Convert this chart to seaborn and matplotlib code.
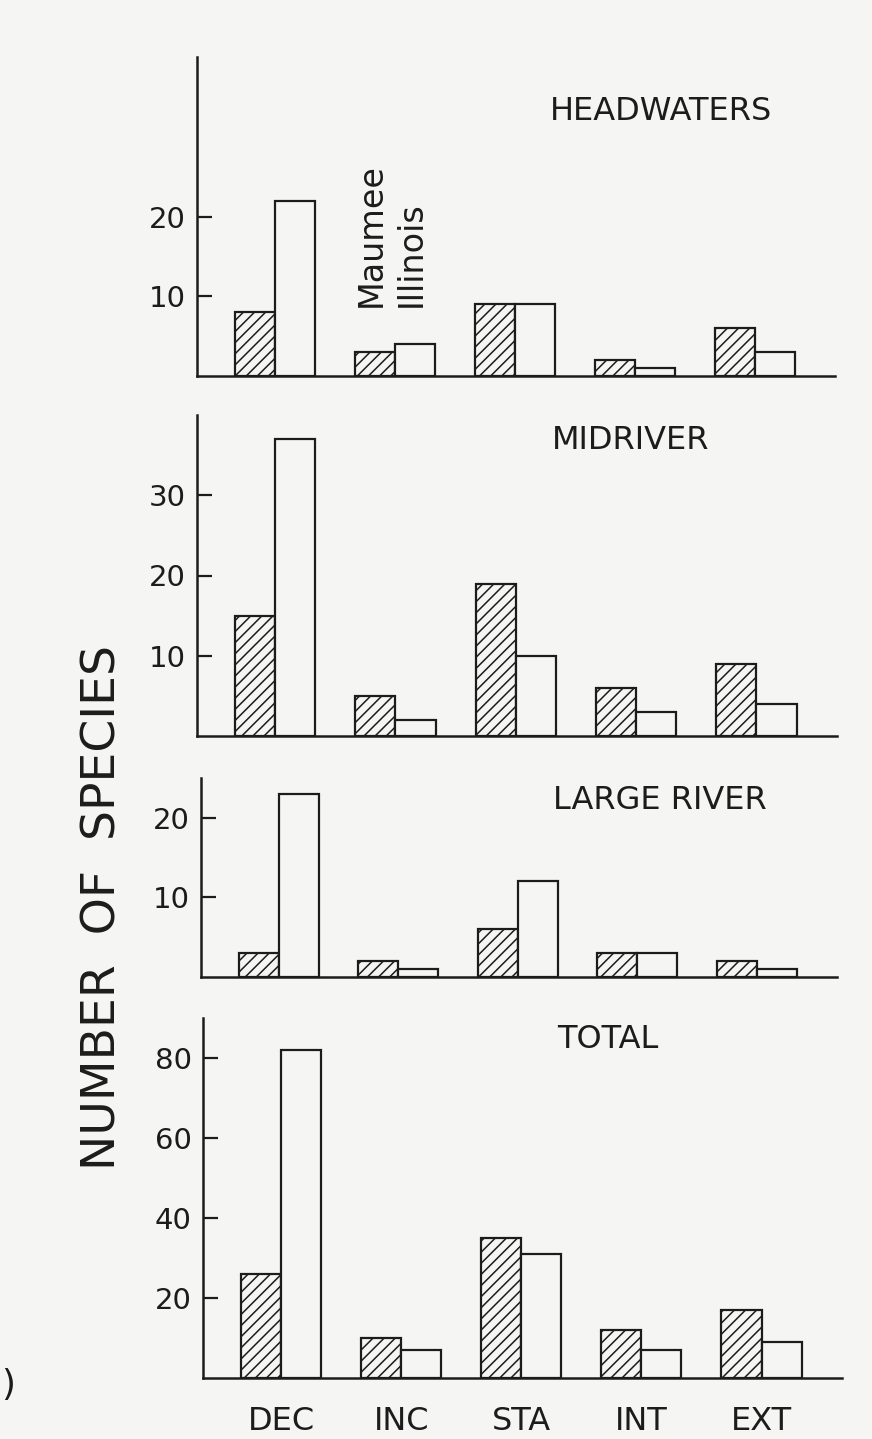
import pandas as pd
import matplotlib
matplotlib.use("Agg")
import matplotlib.pyplot as plt
import seaborn as sns

# Values
categories = ["DEC", "INC", "STA", "INT", "EXT"]
rivers = ["Maumee", "Illinois"]
regions = ["HEADWATERS", "MIDRIVER", "LARGE RIVER", "TOTAL"]

headwaters_maumee = [8, 3, 9, 2, 6]
headwaters_illinois = [22, 4, 9, 1, 3]
midriver_maumee = [15, 5, 19, 6, 9]
midriver_illinois = [37, 2, 10, 3, 4]
large_river_maumee = [3, 2, 6, 3, 2]
large_river_illinois = [23, 1, 12, 3, 1]
total_maumee = [26, 10, 35, 12, 17]
total_illinois = [82, 7, 31, 7, 9]

y_max = [40, 40, 25, 90]
y_ticks = [[10, 20], [10, 20, 30], [10, 20], [20, 40, 60, 80]]

# Build a long table for seaborn
series = {
    "HEADWATERS": (headwaters_maumee, headwaters_illinois),
    "MIDRIVER": (midriver_maumee, midriver_illinois),
    "LARGE RIVER": (large_river_maumee, large_river_illinois),
    "TOTAL": (total_maumee, total_illinois),
}
rows = []
for region in regions:
    for river, values in zip(rivers, series[region]):
        for cat, v in zip(categories, values):
            rows.append({"region": region, "category": cat, "river": river, "count": v})
data = pd.DataFrame(rows)

sns.set_style("ticks")
bg = "#f5f5f4"
ink = "#1c1c1c"
plt.rcParams["font.family"] = ["DejaVu Sans"]
plt.rcParams["hatch.linewidth"] = 1.1
plt.rcParams["hatch.color"] = ink

W, H = 872, 1439
fig = plt.figure(figsize=(W / 100, H / 100), dpi=100, facecolor=bg)

# panel boxes in pixels: left, right, top, bottom
boxes = [(197, 835, 57, 376), (197, 837, 415, 736), (201, 837, 778, 977), (203, 842, 1018, 1378)]
title_pos = [(550, 112), (552, 440), (553, 801), (557, 1040)]

axes = []
for i, region in enumerate(regions):
    l, r, t, b = boxes[i]
    ax = fig.add_axes([l / W, 1 - b / H, (r - l) / W, (b - t) / H], facecolor=bg)
    sub = data[data["region"] == region]
    sns.barplot(data=sub, x="category", y="count", hue="river", order=categories,
                hue_order=rivers, palette={"Maumee": bg, "Illinois": bg}, saturation=1,
                width=0.667, gap=0, edgecolor=ink, linewidth=1.6, errorbar=None,
                legend=False, ax=ax)
    for bar in ax.containers[0]:
        bar.set_hatch("///")
    sns.despine(ax=ax)
    for side in ["left", "bottom"]:
        ax.spines[side].set_linewidth(1.8)
        ax.spines[side].set_color(ink)
    ax.set_xlim(-0.65, 4.67)
    ax.set_ylim(0, y_max[i])
    ax.set_yticks(y_ticks[i])
    ax.tick_params(axis="y", direction="in", length=11, width=1.6, colors=ink,
                   labelsize=21, pad=8)
    ax.set_xlabel("")
    ax.set_ylabel("")
    if i < 3:
        ax.tick_params(axis="x", length=0, labelbottom=False)
    else:
        ax.tick_params(axis="x", length=0, labelsize=23, pad=20, colors=ink)
    fig.text(title_pos[i][0] / W, 1 - title_pos[i][1] / H, region, fontsize=23,
             color=ink, ha="left", va="center")
    axes.append(ax)

# legend written above the INC bars of the top panel
axes[0].text(1 - 0.2, 8.6, "Maumee", rotation=90, ha="center", va="bottom",
             fontsize=24, color=ink)
axes[0].text(1 + 0.14, 8.6, "Illinois", rotation=90, ha="center", va="bottom",
             fontsize=24, color=ink)

fig.text(103 / W, 1 - 907 / H, "NUMBER  OF  SPECIES", rotation=90, ha="center",
         va="center", fontsize=34, color=ink)
fig.text(0.001, 1 - 1385 / H, ")", fontsize=26, color=ink, ha="left", va="center")

fig.savefig("out.png", dpi=100, facecolor=bg)
